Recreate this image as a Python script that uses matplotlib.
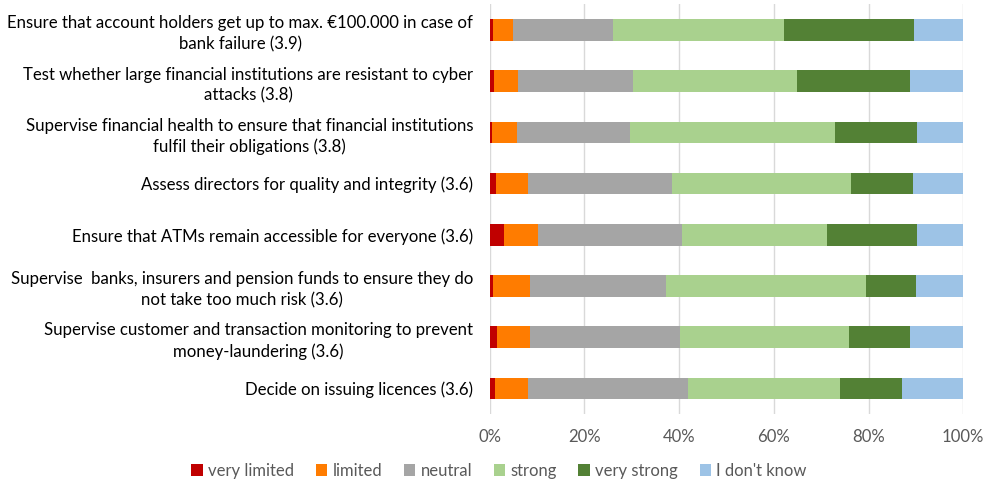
import matplotlib.pyplot as plt
import numpy as np

plt.rcParams['font.family'] = ['Lato', 'DejaVu Sans']

labels = [
    "Ensure that account holders get up to max. \u20ac100.000 in case of\nbank failure (3.9)",
    "Test whether large financial institutions are resistant to cyber\nattacks (3.8)",
    "Supervise financial health to ensure that financial institutions\nfulfil their obligations (3.8)",
    "Assess directors for quality and integrity (3.6)",
    "Ensure that ATMs remain accessible for everyone (3.6)",
    "Supervise  banks, insurers and pension funds to ensure they do\nnot take too much risk (3.6)",
    "Supervise customer and transaction monitoring to prevent\nmoney-laundering (3.6)",
    "Decide on issuing licences (3.6)",
]

series = ["very limited", "limited", "neutral", "strong", "very strong", "I don't know"]
colors = ["#C00000", "#FF7C00", "#A5A5A5", "#A9D18E", "#538135", "#9DC3E6"]

# shares in %, one list per answer category, top bar first
very_limited = [0.7, 0.9, 0.5, 1.3, 3.0, 0.7, 1.5, 1.1]
limited = [4.3, 5.1, 5.3, 6.8, 7.2, 7.8, 7.0, 7.0]
neutral = [21.0, 24.3, 23.8, 30.4, 30.4, 28.7, 31.7, 33.8]
strong = [36.1, 34.6, 43.3, 37.8, 30.6, 42.2, 35.7, 32.1]
very_strong = [27.5, 23.8, 17.3, 13.1, 19.0, 10.6, 12.8, 13.0]
dont_know = [10.4, 11.3, 9.8, 10.6, 9.8, 10.0, 11.3, 13.0]

data = np.array([very_limited, limited, neutral, strong, very_strong, dont_know])
data = data / data.sum(axis=0)  # normalise to 100%

fig = plt.figure(figsize=(9.98, 4.88), dpi=100)
ax = fig.add_axes([0.4907, 0.1516, 0.4745, 0.8394])

y = np.arange(len(labels))
left = np.zeros(len(labels))
for vals, name, c in zip(data, series, colors):
    ax.barh(y, vals, left=left, height=0.42, color=c, label=name, zorder=3)
    left += vals

ax.set_ylim(len(labels) - 0.5, -0.5)
ax.set_xlim(0, 1)
ax.set_xticks(np.linspace(0, 1, 6))
ax.set_xticklabels(["0%", "20%", "40%", "60%", "80%", "100%"])
ax.set_yticks(y)
ax.set_yticklabels(labels, multialignment='center', linespacing=1.35)
ax.grid(axis='x', color='#D9D9D9', linewidth=1, zorder=0)
for s in ax.spines.values():
    s.set_visible(False)
ax.tick_params(axis='both', length=0, labelsize=12.1)
ax.tick_params(axis='x', colors='#595959', pad=11)
ax.tick_params(axis='y', colors='#000000', pad=12)

ax.legend(loc='center', bbox_to_anchor=(0.5, 0.035), bbox_transform=fig.transFigure,
          ncol=6, frameon=False, fontsize=12, handlelength=0.7, handleheight=0.7,
          handletextpad=0.3, columnspacing=1.3, labelcolor='#595959')

fig.savefig("out.png", dpi=100)
